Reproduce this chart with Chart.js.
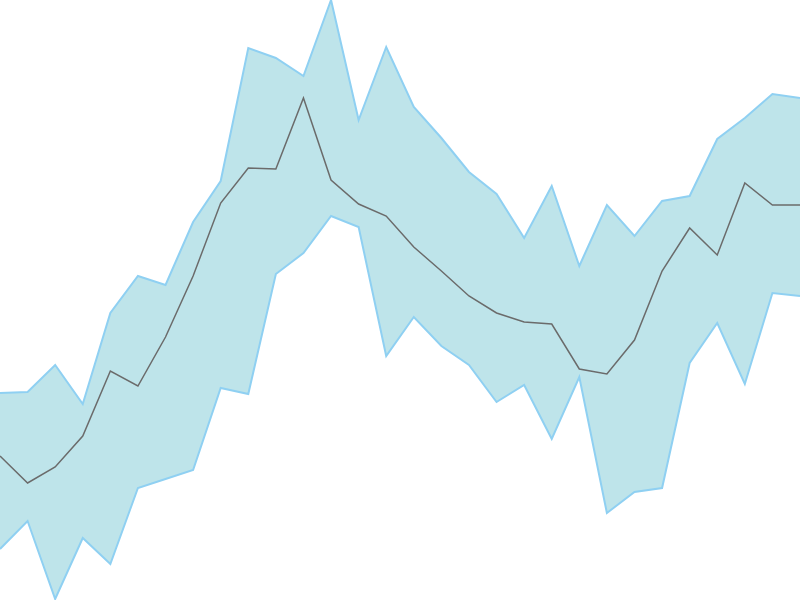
<!DOCTYPE html>
<html>
<head>
<meta charset="utf-8">
<script src="https://cdn.jsdelivr.net/npm/chart.js@4"></script>
<style>
  body { margin: 0; background: #fff; }
</style>
</head>
<body>
<canvas id="chart_band" width="800" height="600"></canvas>
<script>
// values (0 = bottom, 600 = top)
var labels = [];
for (var i = 0; i < 30; i++) labels.push(i);

var upper = [207, 208, 235, 196, 287, 324, 315, 378, 419, 552, 542, 524, 600, 480, 553, 493, 462, 428, 406, 362, 414, 334, 395, 364, 399, 404, 461, 482, 506, 502];
var middle = [144, 117, 133, 164, 229, 214, 263, 324, 397, 432, 431, 502, 420, 396, 384, 353, 329, 304, 287, 278, 276, 231, 226, 260, 329, 372, 345, 417, 395, 395];
var lower = [51, 79, 1, 62, 36, 112, 121, 130, 212, 206, 326, 347, 384, 373, 244, 283, 254, 235, 198, 215, 161, 223, 87, 108, 112, 237, 277, 216, 307, 304];

var ctx = document.getElementById("chart_band").getContext('2d');
// middle line first so it is drawn on top of the band
var chart = new Chart(ctx, {
  type: "line",
  data: {
    labels: labels,
    datasets: [
      {label: "Middle", data: middle, fill: false, borderColor: "#6b6b6b", borderWidth: 1.5, pointRadius: 0, tension: 0},
      {label: "Upper", data: upper, fill: false, borderColor: "#8fd0f2", borderWidth: 2, pointRadius: 0, tension: 0},
      {label: "Lower", data: lower, fill: "-1", backgroundColor: "#bee4ea", borderColor: "#8fd0f2", borderWidth: 2, pointRadius: 0, tension: 0}
    ]
  },
  options: {
    responsive: false,
    animation: false,
    layout: {padding: 0},
    plugins: {legend: {display: false}, tooltip: {enabled: false}},
    scales: {
      x: {display: false, offset: false},
      y: {display: false, min: 0, max: 600}
    }
  }
});
</script>
</body>
</html>
